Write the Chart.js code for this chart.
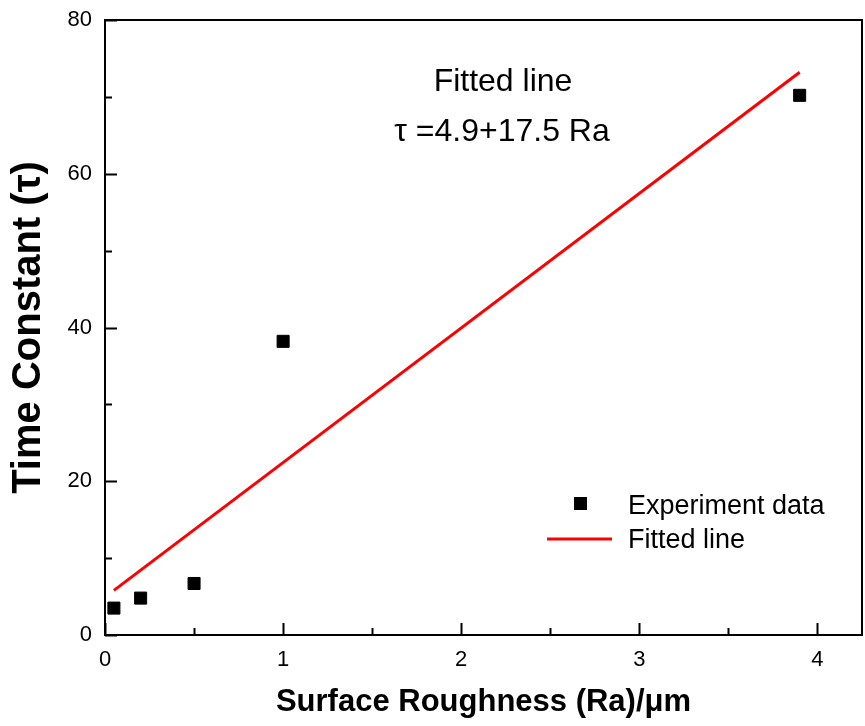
<!DOCTYPE html>
<html>
<head>
<meta charset="utf-8">
<script src="https://cdn.jsdelivr.net/npm/chart.js@4/dist/chart.umd.min.js"></script>
<style>
  html, body { margin: 0; padding: 0; background: #ffffff; }
  #wrap { width: 865px; height: 726px; }
</style>
</head>
<body>
<div id="wrap"><canvas id="c" width="865" height="726"></canvas></div>
<script>
// ---- data ----
const roughness = [0.05, 0.2, 0.5, 1.0, 3.9];          // Ra (µm)
const timeConstant = [3.5, 4.8, 6.7, 38.2, 70.2];       // τ
const fitX = [0.05, 3.9];                               // fitted line ends
const fitY = [5.8, 73.2];
const xMajorTicks = [0, 1, 2, 3, 4];
const xMinorTicks = [0.5, 1.5, 2.5, 3.5];
const yMajorTicks = [0, 20, 40, 60, 80];
const yMinorTicks = [10, 30, 50, 70];
const legendLabels = ['Experiment data', 'Fitted line'];
const annotationLines = ['Fitted line', 'τ =4.9+17.5 Ra'];
const xTitle = 'Surface Roughness (Ra)/μm';
const yTitle = 'Time Constant (τ)';

const FONT = '"Liberation Sans", Arial, sans-serif';

const framePlugin = {
  id: 'frame',
  afterDatasetsDraw(chart) {
    const {ctx, chartArea: a, scales: {x, y}} = chart;
    ctx.save();
    ctx.strokeStyle = '#000';
    ctx.lineWidth = 2;
    ctx.strokeRect(a.left, a.top, a.right - a.left, a.bottom - a.top);
    ctx.beginPath();
    xMajorTicks.forEach(v => { const px = Math.round(x.getPixelForValue(v)) + 0.5; ctx.moveTo(px, a.bottom); ctx.lineTo(px, a.bottom - 12); });
    xMinorTicks.forEach(v => { const px = Math.round(x.getPixelForValue(v)) + 0.5; ctx.moveTo(px, a.bottom); ctx.lineTo(px, a.bottom - 7); });
    yMajorTicks.forEach(v => { const py = Math.round(y.getPixelForValue(v)) + 0.5; ctx.moveTo(a.left, py); ctx.lineTo(a.left + 12, py); });
    yMinorTicks.forEach(v => { const py = Math.round(y.getPixelForValue(v)) + 0.5; ctx.moveTo(a.left, py); ctx.lineTo(a.left + 7, py); });
    ctx.stroke();

    // annotation text
    ctx.fillStyle = '#000';
    ctx.textAlign = 'center';
    ctx.textBaseline = 'alphabetic';
    ctx.font = '32px ' + FONT;
    ctx.fillText(annotationLines[0], 503, 91);
    ctx.fillText(annotationLines[1], 502, 141);

    // legend
    ctx.fillStyle = '#000';
    ctx.fillRect(574, 497, 13, 13);
    ctx.strokeStyle = '#ff0000';
    ctx.lineWidth = 3;
    ctx.beginPath();
    ctx.moveTo(547, 539);
    ctx.lineTo(612, 539);
    ctx.stroke();
    ctx.fillStyle = '#000';
    ctx.textAlign = 'left';
    ctx.font = '27px ' + FONT;
    ctx.fillText(legendLabels[0], 628, 514);
    ctx.fillText(legendLabels[1], 628, 548);
    ctx.restore();
  }
};

function noEdgePadding(s) {
  s.paddingLeft = 0; s.paddingRight = 0; s.paddingTop = 0; s.paddingBottom = 0;
}

new Chart(document.getElementById('c'), {
  type: 'scatter',
  data: {
    datasets: [
      {
        label: legendLabels[1],
        type: 'line',
        data: fitX.map((v, i) => ({x: v, y: fitY[i]})),
        borderColor: '#ff0000',
        borderWidth: 3,
        pointRadius: 0,
        fill: false,
        tension: 0,
        order: 2
      },
      {
        label: legendLabels[0],
        data: roughness.map((v, i) => ({x: v, y: timeConstant[i]})),
        pointStyle: 'rect',
        pointRadius: 8.5,
        pointBackgroundColor: '#000',
        pointBorderColor: '#000',
        pointBorderWidth: 1,
        order: 1
      }
    ]
  },
  options: {
    responsive: false,
    animation: false,
    layout: { autoPadding: false, padding: { top: 20, right: 3, left: 0, bottom: 0 } },
    plugins: { legend: { display: false }, tooltip: { enabled: false } },
    scales: {
      x: {
        type: 'linear',
        min: 0, max: 4.25,
        afterFit(s) { s.height = 91; noEdgePadding(s); },
        grid: { display: false, drawTicks: false },
        border: { display: false },
        ticks: { stepSize: 1, includeBounds: false, padding: 12, color: '#000', font: { family: FONT, size: 22 } },
        title: { display: true, text: xTitle, color: '#000', padding: { top: 0, bottom: 5 }, font: { family: FONT, size: 31, weight: 'bold' } }
      },
      y: {
        type: 'linear',
        min: 0, max: 80,
        afterFit(s) { s.width = 105; noEdgePadding(s); },
        grid: { display: false, drawTicks: false },
        border: { display: false },
        ticks: { stepSize: 20, includeBounds: false, padding: 13, color: '#000', font: { family: FONT, size: 22 } },
        title: { display: true, text: yTitle, color: '#000', padding: { top: 5, bottom: 0 }, font: { family: FONT, size: 40, weight: 'bold' } }
      }
    }
  },
  plugins: [framePlugin]
});
</script>
</body>
</html>
